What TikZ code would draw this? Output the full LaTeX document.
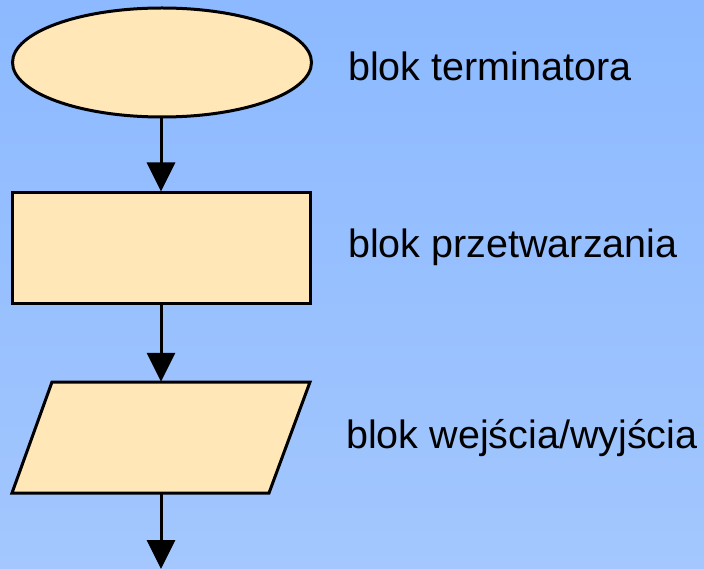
\documentclass[tikz,border=0pt]{standalone}
\usepackage{fontspec}
\setmainfont{Liberation Sans}
\usetikzlibrary{shapes.geometric,arrows.meta}
\definecolor{bgtop}{RGB}{140,185,255}
\definecolor{bgbottom}{RGB}{163,199,254}
\definecolor{blockfill}{RGB}{255,231,183}
\begin{document}
\begin{tikzpicture}[x=1pt,y=-1pt,
  block/.style={draw=black,fill=blockfill,line width=3pt,inner sep=0pt},
  flow/.style={line width=3pt,-{Triangle[length=29pt,width=28pt]}},
  caption/.style={anchor=base west,inner sep=0pt,font=\fontsize{39.5}{47}\selectfont}]
  % background
  \shade[top color=bgtop,bottom color=bgbottom] (0,0) rectangle (704,569);
  \useasboundingbox (0,0) rectangle (704,569);
  % blocks
  \node[block,ellipse,minimum width=299pt,minimum height=109pt] (term) at (162,62.5) {};
  \node[block,rectangle,minimum width=298pt,minimum height=111pt] (proc) at (161,248.5) {};
  % input/output block: a parallelogram slanted to the right
  \draw[block,line join=miter] (52,382) -- (310,382) -- (269,493) -- (12,493) -- cycle;
  \node[inner sep=0pt,minimum width=258pt,minimum height=111pt] (io) at (161,437.5) {};
  \coordinate (out) at (161,569);
  % connectors
  \draw[flow] (term.south -| proc.north) -- (proc.north);
  \draw[flow] (proc.south) -- (io.north);
  \draw[flow] (io.south) -- (out);
  % captions
  \node[caption] (tlabel) at (348,81) {blok terminatora};
  \node[caption] (plabel) at (348,258) {blok przetwarzania};
  \node[caption] (ilabel) at (346,448) {blok wejścia/wyjścia};
\end{tikzpicture}
\end{document}
